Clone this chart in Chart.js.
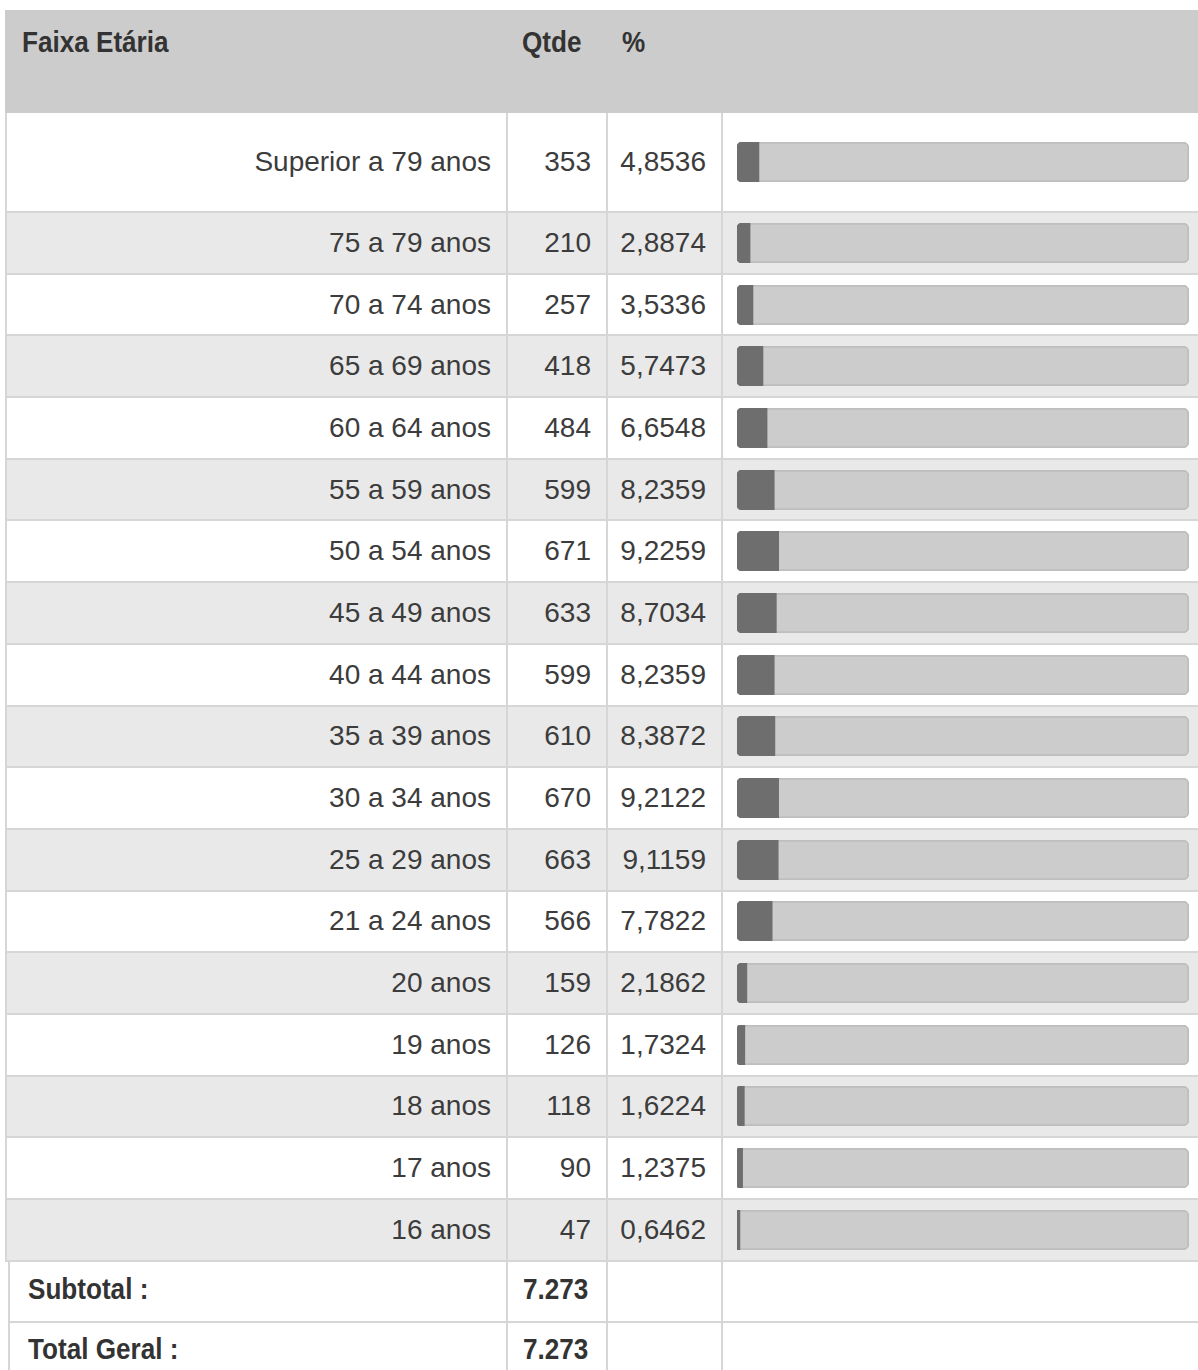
<!DOCTYPE html>
<html lang="pt-BR">
<head>
<meta charset="utf-8">
<title>Faixa Etária</title>
<script src="https://cdn.jsdelivr.net/npm/chart.js@4.4.1/dist/chart.umd.min.js"></script>
<style>
  html, body { margin: 0; padding: 0; background: #fff; width: 1198px; height: 1370px; overflow: hidden; }
  #tabela { position: absolute; left: 5px; top: 10px; width: 1210px; font-family: "Liberation Sans", Arial, sans-serif; color: #3c3c3c; }
  .linha { display: flex; box-sizing: border-box; align-items: stretch; }
  .cab { background: #cccccc; height: 103px; }
  .cab .cel { padding-top: 15px; font-weight: bold; font-size: 29px; line-height: 34px; color: #333; }
  .corpo { border-bottom: 2px solid #d6d6d6; border-left: 2px solid #d6d6d6; }
  .corpo.par { background: #e9e9e9; }
  .cel { box-sizing: border-box; white-space: nowrap; }
  .corpo .cel { display: flex; align-items: center; font-size: 28px; border-right: 2px solid #d6d6d6; }
  .c1 { width: 501px; }
  .c2 { width: 100px; }
  .c3 { width: 115px; }
  .c4 { flex: 1; border-right: none !important; }
  .dir { justify-content: flex-end; padding-right: 15px; }
  .cab .c1 { padding-left: 17px; }
  .cab .c2, .cab .c3 { padding-left: 16px; }
  .corpo .c4 { padding-left: 14px; }
  .estreito { display: inline-block; transform: scaleX(0.9); transform-origin: left center; }
  .rodape { border-bottom: 2px solid #d6d6d6; border-left: 2px solid #d6d6d6; margin-left: 3px; }
  .rodape .cel { align-items: flex-start !important; font-weight: bold; font-size: 29px; line-height: 34px; color: #333; }
  .rodape .c1 { width: 498px; padding-left: 18px; }
  .rodape .c2 { padding-left: 15px; }
  canvas { display: block; }
</style>
</head>
<body>
<div id="tabela"></div>
<script>
const faixas = ['Superior a 79 anos', '75 a 79 anos', '70 a 74 anos', '65 a 69 anos', '60 a 64 anos',
  '55 a 59 anos', '50 a 54 anos', '45 a 49 anos', '40 a 44 anos', '35 a 39 anos', '30 a 34 anos',
  '25 a 29 anos', '21 a 24 anos', '20 anos', '19 anos', '18 anos', '17 anos', '16 anos'];
const qtde = [353, 210, 257, 418, 484, 599, 671, 633, 599, 610, 670, 663, 566, 159, 126, 118, 90, 47];
const percentual = [4.8536, 2.8874, 3.5336, 5.7473, 6.6548, 8.2359, 9.2259, 8.7034, 8.2359, 8.3872,
  9.2122, 9.1159, 7.7822, 2.1862, 1.7324, 1.6224, 1.2375, 0.6462];
const colunas = ['Faixa Etária', 'Qtde', '%'];
const totais = [['Subtotal :', 7273], ['Total Geral :', 7273]];

const escalaMax = 100;

function fmtMilhar(n) {
  return String(n).replace(/\B(?=(\d{3})+(?!\d))/g, '.');
}
function fmtPct(v) {
  return v.toFixed(4).replace('.', ',');
}

const tabela = document.getElementById('tabela');

// cabeçalho
const cab = document.createElement('div');
cab.className = 'linha cab';
cab.innerHTML =
  `<div class="cel c1"><span class="estreito">${colunas[0]}</span></div>` +
  `<div class="cel c2"><span class="estreito">${colunas[1]}</span></div>` +
  `<div class="cel c3"><span class="estreito">${colunas[2]}</span></div>` +
  `<div class="cel c4"></div>`;
tabela.appendChild(cab);

// linhas de dados: a primeira é mais alta, as demais dividem o resto
const alturaPrimeira = 100;
const alturaLinha = 61.7;

faixas.forEach((faixa, i) => {
  const linha = document.createElement('div');
  linha.className = 'linha corpo' + (i % 2 === 1 ? ' par' : '');
  linha.style.height = (i === 0 ? alturaPrimeira : alturaLinha) + 'px';
  linha.innerHTML =
    `<div class="cel c1 dir">${faixa}</div>` +
    `<div class="cel c2 dir">${fmtMilhar(qtde[i])}</div>` +
    `<div class="cel c3 dir">${fmtPct(percentual[i])}</div>` +
    `<div class="cel c4"></div>`;
  tabela.appendChild(linha);

  const canvas = document.createElement('canvas');
  canvas.width = 452;
  canvas.height = 40;
  canvas.style.width = '452px';
  canvas.style.height = '40px';
  linha.querySelector('.c4').appendChild(canvas);

  new Chart(canvas, {
    type: 'bar',
    data: {
      labels: [faixa],
      datasets: [
        {
          data: [percentual[i]],
          backgroundColor: '#6e6e6e',
          borderWidth: 0,
          borderRadius: { topLeft: 5, bottomLeft: 5, topRight: 0, bottomRight: 0 },
          borderSkipped: false,
          grouped: false,
          barPercentage: 1,
          categoryPercentage: 1,
          clip: false
        },
        {
          data: [escalaMax],
          backgroundColor: '#cccccc',
          borderColor: '#bebebe',
          borderWidth: 2,
          borderRadius: 6,
          borderSkipped: false,
          grouped: false,
          barPercentage: 1,
          categoryPercentage: 1,
          clip: false
        }
      ]
    },
    options: {
      indexAxis: 'y',
      responsive: false,
      animation: false,
      devicePixelRatio: 1,
      events: [],
      layout: { padding: 0 },
      plugins: { legend: { display: false }, tooltip: { enabled: false } },
      scales: {
        x: { display: false, min: 0, max: escalaMax },
        y: { display: false }
      }
    }
  });
});

// subtotal e total geral
totais.forEach(([rotulo, valor], i) => {
  const linha = document.createElement('div');
  linha.className = 'linha corpo rodape';
  linha.style.height = (i === 0 ? 61 : 70) + 'px';
  linha.style.background = '#fff';
  const topo = i === 0 ? 10 : 9;
  linha.innerHTML =
    `<div class="cel c1" style="padding-top:${topo}px"><span class="estreito">${rotulo}</span></div>` +
    `<div class="cel c2" style="padding-top:${topo}px"><span class="estreito">${fmtMilhar(valor)}</span></div>` +
    `<div class="cel c3"></div>` +
    `<div class="cel c4"></div>`;
  tabela.appendChild(linha);
});
</script>
</body>
</html>
